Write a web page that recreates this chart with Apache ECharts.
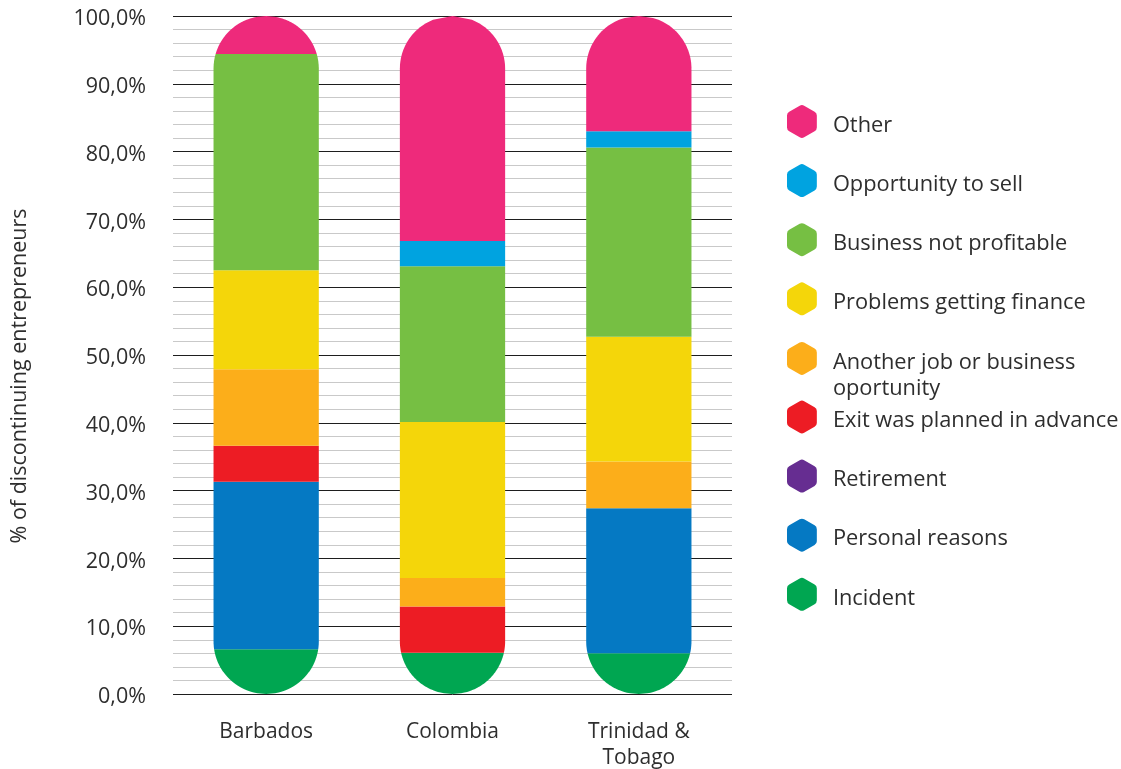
<!DOCTYPE html>
<html>
<head>
<meta charset="utf-8">
<script src="https://cdn.jsdelivr.net/npm/echarts@6/dist/echarts.min.js"></script>
<style>
  html, body { margin: 0; padding: 0; background: #fff; }
  #chart { width: 1121px; height: 769px; }
</style>
</head>
<body>
<div id="chart"></div>
<script>
// countries on the x axis
var categories = ['Barbados', 'Colombia', 'Trinidad &\nTobago'];

// shares in % per country, stacked from the bottom up
var incident      = [6.6, 6.1, 6.0];
var personal      = [24.7, 0, 21.4];
var retirement    = [0, 0, 0];
var exitPlanned   = [5.3, 6.8, 0];
var anotherJob    = [11.3, 4.2, 6.9];
var finance       = [14.6, 23.0, 18.4];
var notProfitable = [31.9, 23.0, 27.9];
var sellOpp       = [0, 3.7, 2.4];
var other         = [5.6, 33.2, 17.0];

var names = ['Incident', 'Personal reasons', 'Retirement', 'Exit was planned in advance',
             'Another job or business oportunity', 'Problems getting finance',
             'Business not profitable', 'Opportunity to sell', 'Other'];
var values = [incident, personal, retirement, exitPlanned, anotherJob, finance, notProfitable, sellOpp, other];
var colors = ['#00a651', '#0579c3', '#662d91', '#ed1c24', '#fcae1a', '#f4d60a', '#76bf43', '#00a3e0', '#ee2a7b'];

var FONT = '"Open Sans", sans-serif';
var TXT = '#2e2e2e';
var HEX = 'path://M37,3.75 Q43.5,0 50,3.75 L80.5,21.25 Q87,25 87,32.5 L87,67.5 Q87,75 80.5,78.75 L50,96.25 Q43.5,100 37,96.25 L6.5,78.75 Q0,75 0,67.5 L0,32.5 Q0,25 6.5,21.25 Z';

var chart = echarts.init(document.getElementById('chart'));

// totals per country (top of the capsule)
var totals = categories.map(function (c, i) {
    return values.reduce(function (s, arr) { return s + arr[i]; }, 0);
});

// each segment is the part of a capsule-shaped bar between two stacked values
function renderSegment(params, api) {
    var c = api.value(0), s = api.value(1), e = api.value(2), tot = api.value(3);
    if (e - s <= 0) return null;
    var pTop = api.coord([c, e]);
    var pBot = api.coord([c, s]);
    var capTop = api.coord([c, tot])[1];
    var capBot = api.coord([c, 0])[1];
    var bw = api.size([1, 0])[0] * 0.565;
    var r = bw / 2, cx = pTop[0];
    function half(y) {
        var dy = 0;
        if (y < capTop + r) dy = capTop + r - y;
        else if (y > capBot - r) dy = y - (capBot - r);
        return Math.sqrt(Math.max(0, r * r - dy * dy));
    }
    var n = 60, pts = [], k, y;
    for (k = 0; k <= n; k++) {
        y = pTop[1] + (pBot[1] - pTop[1]) * k / n;
        pts.push([cx + half(y), y]);
    }
    for (k = n; k >= 0; k--) {
        y = pTop[1] + (pBot[1] - pTop[1]) * k / n;
        pts.push([cx - half(y), y]);
    }
    return { type: 'polygon', shape: { points: pts }, style: api.style({ stroke: null }) };
}

var base = categories.map(function () { return 0; });
var series = names.map(function (name, k) {
    var data = categories.map(function (c, i) {
        var d = [i, base[i], base[i] + values[k][i], totals[i]];
        base[i] += values[k][i];
        return d;
    });
    return {
        name: name,
        type: 'custom',
        renderItem: renderSegment,
        encode: { x: 0, y: [1, 2] },
        itemStyle: { color: colors[k] },
        data: data
    };
});

// one legend per item so the two-line entry keeps the even spacing
var legendFont = { fontFamily: FONT, fontSize: 21.8, color: TXT, lineHeight: 26 };
var legends = names.slice().reverse().map(function (name, j) {
    var center = 121.5 + j * 59.1;
    var twoLine = name.indexOf(' business ') >= 0;
    return {
        data: [name],
        orient: 'vertical',
        left: 787,
        top: twoLine ? center - 40.5 : center - 16.5,
        padding: 0,
        icon: HEX,
        itemWidth: 30,
        itemHeight: 33,
        selectedMode: false,
        formatter: function (nm) {
            if (twoLine) {
                var parts = nm.split(' business ');
                return '{a|' + parts[0] + ' business}\n{a|' + parts[1] + '}';
            }
            return '{t|' + nm + '}';
        },
        textStyle: {
            fontFamily: FONT, fontSize: 21.8, color: TXT,
            rich: {
                t: Object.assign({ padding: [8, 0, 0, 11] }, legendFont),
                a: Object.assign({ padding: [34, 0, 0, 11] }, legendFont)
            }
        }
    };
});

var option = {
    animation: false,
    grid: { left: 173, right: 389, top: 16, bottom: 75, outerBoundsMode: 'none' },
    legend: legends,
    xAxis: {
        type: 'category',
        data: categories,
        axisLine: { show: false },
        axisTick: { show: false },
        axisLabel: { fontFamily: FONT, fontSize: 21, color: TXT, margin: 25, lineHeight: 26 }
    },
    yAxis: {
        type: 'value',
        min: 0,
        max: 100,
        interval: 10,
        name: '% of discontinuing entrepreneurs',
        nameLocation: 'middle',
        nameGap: 142,
        nameTextStyle: { fontFamily: FONT, fontSize: 21.5, color: TXT, padding: [0, 42, 0, 0] },
        axisLine: { show: false },
        axisTick: { show: false },
        axisLabel: {
            margin: 27,
            formatter: function (v) { return '{v|' + v.toFixed(1).replace('.', ',') + '%}'; },
            rich: { v: { fontFamily: FONT, fontSize: 21.5, color: TXT, padding: [6, 0, 0, 0] } }
        },
        splitLine: { lineStyle: { color: '#1e1e1e', width: 1 } },
        minorTick: { show: false, splitNumber: 5 },
        minorSplitLine: { show: true, lineStyle: { color: '#c9c9c9', width: 1 } }
    },
    series: series
};

chart.setOption(option);
window.addEventListener('resize', chart.resize);
</script>
</body>
</html>
